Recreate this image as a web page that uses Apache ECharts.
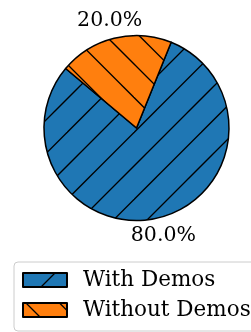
<!DOCTYPE html>
<html>
<head>
<meta charset="utf-8">
<script src="https://cdn.jsdelivr.net/npm/echarts@6/dist/echarts.min.js"></script>
<style>
  html, body { margin: 0; padding: 0; background: #fff; }
  #chart { width: 251px; height: 332px; }
</style>
</head>
<body>
<div id="chart"></div>
<script>
const categories = ['With Demos', 'Without Demos']
const shares = [80, 20]
const colors = ['#1f77b4', '#ff7f0e']
const hatchDirs = ['/', '\\']

const center = [136.5, 128]
const radius = 92.5

// diagonal hatch tile, lines every 33.5px along x
function hatch(bg, dir, phase) {
  const size = 67
  const cv = document.createElement('canvas')
  cv.width = size
  cv.height = size
  const ctx = cv.getContext('2d')
  ctx.fillStyle = bg
  ctx.fillRect(0, 0, size, size)
  ctx.strokeStyle = '#000'
  ctx.lineWidth = 1.3
  for (let c = phase - 134; c <= 134 + 67; c += 33.5) {
    ctx.beginPath()
    if (dir === '/') {
      // x + y = c
      ctx.moveTo(c + 10, -10)
      ctx.lineTo(c - size - 10, size + 10)
    } else {
      // x - y = c
      ctx.moveTo(c - 10, -10)
      ctx.lineTo(c + size + 10, size + 10)
    }
    ctx.stroke()
  }
  return { image: cv, repeat: 'repeat' }
}

const phases = [32, 3]

const chart = echarts.init(document.getElementById('chart'))
chart.setOption({
  animation: false,
  legend: {
    orient: 'vertical',
    left: 14,
    top: 262,
    height: 200,
    padding: [7, 12, 10, 8],
    itemWidth: 44,
    itemHeight: 14,
    itemGap: 8,
    icon: 'rect',
    borderColor: '#cccccc',
    borderWidth: 1,
    borderRadius: 4,
    textStyle: {
      fontFamily: 'DejaVu Serif',
      fontSize: 21.5,
      color: '#000',
      padding: [0, 0, 0, 11]
    },
    data: categories
  },
  series: [
    {
      type: 'pie',
      center: center,
      radius: radius,
      startAngle: 140,
      clockwise: false,
      silent: true,
      itemStyle: { borderColor: '#000', borderWidth: 1.5 },
      label: {
        show: true,
        position: 'inside',
        fontFamily: 'DejaVu Serif',
        fontSize: 20.5,
        color: '#000',
        formatter: (p) => p.percent.toFixed(1) + '%'
      },
      labelLine: { show: false },
      labelLayout: (p) => {
        // move the label along its slice's mid direction to 1.2 radius
        const dx = p.labelRect.x + p.labelRect.width / 2 - center[0]
        const dy = p.labelRect.y + p.labelRect.height / 2 - center[1]
        const len = Math.sqrt(dx * dx + dy * dy)
        return {
          x: center[0] + dx / len * radius * 1.2,
          y: center[1] + dy / len * radius * 1.2,
          align: 'center',
          verticalAlign: 'middle'
        }
      },
      data: categories.map((name, i) => ({
        name: name,
        value: shares[i],
        itemStyle: { color: hatch(colors[i], hatchDirs[i], phases[i]) }
      }))
    }
  ]
})
</script>
</body>
</html>
